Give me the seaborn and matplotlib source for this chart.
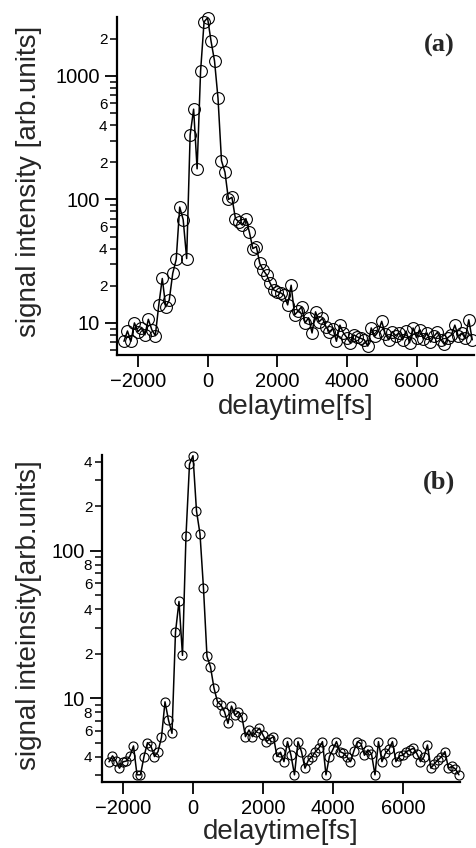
import matplotlib
matplotlib.use("Agg")
import matplotlib.pyplot as plt
import seaborn as sns
from matplotlib.ticker import FixedLocator, FixedFormatter

# --- data (delay in fs, signal in arb. units) ---
delay_a = list(range(-2400, 7601, 100))
signal_a = [
    7.1, 8.6, 7.1, 10.0, 8.5, 9.1, 8.0, 10.7, 8.8, 7.9,
    14.0, 22.9, 13.5, 15.3, 25.2, 32.7, 86.7, 68.6, 33.2, 333,
    538, 177, 1096, 2742, 2950, 1914, 1322, 661, 206, 166,
    100, 104, 70, 65.6, 62, 69.9, 54.5, 40, 41.5, 30.3,
    26.7, 24.4, 20.9, 18.5, 17.9, 17.5, 16.8, 14.0, 20.2, 11.6,
    12.5, 13.5, 10.0, 11.0, 8.3, 12.3, 10.2, 10.9, 9.3, 8.5,
    9.0, 7.1, 9.6, 8.3, 7.6, 6.9, 8.0, 7.7, 7.5, 7.3,
    6.5, 9.1, 7.8, 8.5, 10.3, 8.2, 7.3, 8.5, 7.9, 8.3,
    7.3, 8.6, 6.9, 9.1, 7.6, 8.8, 7.4, 8.3, 7.0, 7.8,
    8.4, 7.3, 6.7, 7.6, 8.0, 9.6, 7.8, 8.3, 7.5, 10.6,
    7.3,
]

delay_b = list(range(-2400, 7601, 100))
signal_b = [
    3.7, 4.06, 3.75, 3.35, 3.7, 3.75, 4.06, 4.74, 3.02, 3.02,
    4.02, 4.99, 4.71, 4.02, 4.34, 5.42, 9.44, 7.1, 5.77, 28.0,
    45.2, 19.5, 126, 385, 440, 186, 130, 55.6, 19.2, 16.3,
    11.7, 9.44, 8.98, 8.08, 6.74, 8.83, 7.67, 8.08, 7.41, 5.48,
    6.08, 5.48, 5.9, 6.25, 5.62, 5.07, 5.3, 5.48, 4.02, 4.3,
    3.71, 5.07, 4.1, 3.02, 5.07, 4.34, 3.35, 3.81, 4.0, 4.34,
    4.6, 5.07, 3.02, 4.02, 4.5, 5.07, 4.34, 4.23, 4.0, 3.71,
    4.4, 5.07, 4.92, 4.1, 4.46, 4.2, 3.02, 5.07, 3.71, 4.23,
    4.5, 5.07, 3.71, 4.06, 4.1, 4.34, 4.46, 4.57, 4.2, 3.71,
    4.0, 4.81, 3.35, 3.6, 3.81, 4.0, 4.34, 3.35, 3.45, 3.3,
    3.02,
]

# tick positions / labels
xticks = [-2000, 0, 2000, 4000, 6000]
major_a = [10, 100, 1000]
minor_a = [6, 7, 8, 9, 20, 30, 40, 50, 60, 70, 80, 90,
           200, 300, 400, 500, 600, 700, 800, 900, 2000]
minor_a_labels = ['', '', '', '', '2', '', '4', '', '6', '', '', '',
                  '2', '', '4', '', '6', '', '', '', '2']
major_b = [10, 100]
minor_b = [3, 4, 5, 6, 7, 8, 9, 20, 30, 40, 50, 60, 70, 80, 90, 200, 300, 400]
minor_b_labels = ['', '4', '', '6', '', '8', '', '2', '', '4', '', '6', '', '8', '',
                  '2', '', '4']

sns.set_style("ticks")
plt.rcParams['font.family'] = ['Liberation Sans', 'DejaVu Sans']

fig = plt.figure(figsize=(4.76, 8.48), dpi=100)
W, H = 476, 848
ax_a = fig.add_axes([117 / W, (H - 355) / H, (474 - 117) / W, (355 - 17) / H])
ax_b = fig.add_axes([102 / W, (H - 782) / H, (460 - 102) / W, (782 - 455) / H])


def draw(ax, x, y, msize, ylim, xlim, major, minor, minor_labels, ylabel, tag):
    sns.lineplot(x=x, y=y, ax=ax, color='black', linewidth=1.1,
                 marker='o', markersize=msize, markerfacecolor='none',
                 markeredgecolor='black', markeredgewidth=0.8, clip_on=False)
    ax.set_yscale('log')
    ax.set_ylim(*ylim)
    ax.set_xlim(*xlim)
    ax.set_xticks(xticks)
    ax.set_xticklabels([str(t).replace('-', '\u2212') for t in xticks])
    ax.yaxis.set_major_locator(FixedLocator(major))
    ax.yaxis.set_major_formatter(FixedFormatter([str(m) for m in major]))
    ax.yaxis.set_minor_locator(FixedLocator(minor))
    ax.yaxis.set_minor_formatter(FixedFormatter(minor_labels))
    sns.despine(ax=ax)
    for s in ['left', 'bottom']:
        ax.spines[s].set_linewidth(1.6)
        ax.spines[s].set_color('black')
    ax.tick_params(axis='both', which='major', direction='out', length=8.5,
                   width=1.3, labelsize=14.5, pad=4, colors='black')
    ax.tick_params(axis='y', which='minor', direction='out', length=5,
                   width=1.1, labelsize=11, pad=2, colors='black')
    ax.tick_params(axis='x', which='minor', length=0)
    ax.set_xlabel('delaytime[fs]', fontsize=20)
    ax.set_ylabel(ylabel, fontsize=20)
    ax.text(0.92, 0.92, tag, transform=ax.transAxes, fontsize=19,
            fontweight='bold', family=['Liberation Serif', 'DejaVu Serif'],
            ha='center', va='center')


draw(ax_a, delay_a, signal_a, 8.5, (5.5, 3000), (-2600, 7650),
     major_a, minor_a, minor_a_labels, 'signal intensity [arb.units]', '(a)')
draw(ax_b, delay_b, signal_b, 6.5, (2.7, 445), (-2600, 7630),
     major_b, minor_b, minor_b_labels, 'signal inteinsity[arb.units]', '(b)')

ax_a.yaxis.set_label_coords(-0.21, 0.515)
ax_a.xaxis.set_label_coords(0.5, -0.115)
ax_b.yaxis.set_label_coords(-0.168, 0.511)
ax_b.xaxis.set_label_coords(0.5, -0.112)

ax_a.texts[0].set_position(((439 - 117) / 357, (355 - 45) / 338))
ax_b.texts[0].set_position(((439 - 102) / 358, (782 - 482) / 327))

fig.savefig('out.png', dpi=100)
